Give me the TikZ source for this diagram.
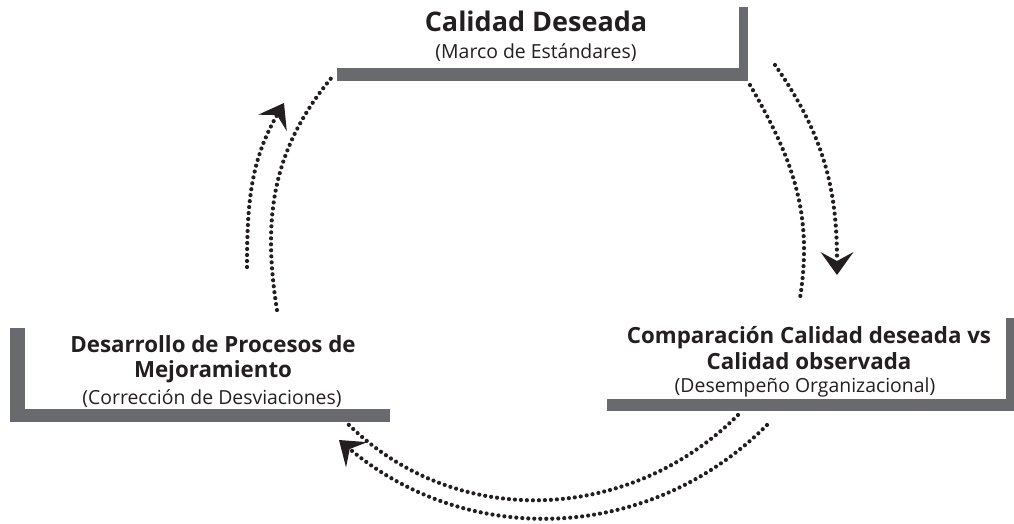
\documentclass[tikz,border=0pt]{standalone}
\usepackage{fontspec}
\setmainfont{Open Sans}
\usetikzlibrary{arrows.meta}
\definecolor{barc}{RGB}{105,106,110}
\definecolor{ink}{RGB}{35,31,32}
\begin{document}
\begin{tikzpicture}[x=1pt,y=1pt,
  barfill/.style={fill=barc, draw=none},
  dots/.style={draw=ink, line width=4.2pt, line cap=round, dash pattern=on 0pt off 6pt},
  flow/.style={dots, -{Stealth[length=23pt,width=33pt,inset=9pt,line width=0pt]}},
  ttlbig/.style={font=\bfseries\fontsize{27}{30}\selectfont, text=ink, inner sep=0pt, anchor=base},
  ttl/.style={font=\bfseries\fontsize{22.3}{26}\selectfont, text=ink, inner sep=0pt, anchor=base},
  sub/.style={font=\fontsize{19.4}{22}\selectfont, text=ink, inner sep=0pt, anchor=base},
]
\useasboundingbox (0,0) rectangle (1014,523);
% bars
\fill[barfill] (337,442) rectangle (748,455);
\fill[barfill] (739,442) rectangle (748,516);
\fill[barfill] (10,101) rectangle (390,114);
\fill[barfill] (10,101) rectangle (25,195);
\fill[barfill] (607,112) rectangle (1014,124);
\fill[barfill] (1006,112) rectangle (1014,205);
% texts
\node[ttlbig] (t1) at (536,491) {Calidad Deseada};
\node[sub] (s1) at (536,464) {(Marco de Estándares)};
\node[ttl] (t2a) at (213,171) {Desarrollo de Procesos de};
\node[ttl] (t2b) at (213,146) {Mejoramiento};
\node[sub] (s2) at (212,119) {(Corrección de Desviaciones)};
\node[ttl] (t3a) at (809,180) {Comparación Calidad deseada vs};
\node[ttl] (t3b) at (809,154) {Calidad observada};
\node[sub] (s3) at (805,131) {(Desempeño Organizacional)};
% arc ends
\coordinate (a1) at (750,438); \coordinate (a2) at (800,225);
\coordinate (b1) at (775,458); \coordinate (b2) at (837,248);
\coordinate (c1) at (738,108); \coordinate (c2) at (347,100);
\coordinate (d1) at (767,98);  \coordinate (d2) at (339,83);
\coordinate (e1) at (277,213); \coordinate (e2) at (333,447);
\coordinate (f1) at (247,256); \coordinate (f2) at (284,420);
\draw[dots] (a1) to[out=-60,in=81] (a2);
\draw[flow] (b1) to[out=-55,in=90] (b2);
\draw[dots] (c1) to[out=225,in=-45] (c2);
\draw[flow] (d1) to[out=225,in=-40] (d2);
\draw[dots] (e1) to[out=99,in=230] (e2);
\draw[flow] (f1) to[out=90,in=240] (f2);
\end{tikzpicture}
\end{document}
